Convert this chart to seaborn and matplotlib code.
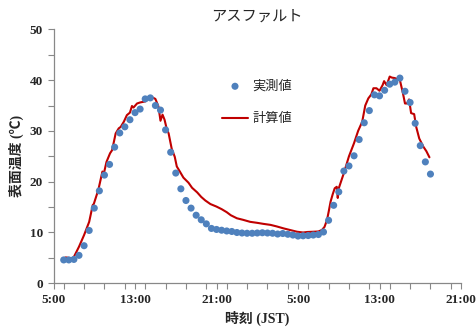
import numpy as np
import pandas as pd
import matplotlib
matplotlib.use("Agg")
import matplotlib.pyplot as plt
import matplotlib.ticker as mticker
import seaborn as sns

# measured surface temperature (every 30 min, hours counted from day-1 0:00)
obs_hours = [6.0, 6.5, 7.0, 7.5, 8.0, 8.5, 9.0, 9.5, 10.0, 10.5, 11.0, 11.5, 12.0, 12.5,
             13.0, 13.5, 14.0, 14.5, 15.0, 15.5, 16.0, 16.5, 17.0, 17.5, 18.0, 18.5,
             19.0, 19.5, 20.0, 20.5, 21.0, 21.5, 22.0, 22.5, 23.0, 23.5, 24.0, 24.5,
             25.0, 25.5, 26.0, 26.5, 27.0, 27.5, 28.0, 28.5, 29.0, 29.5, 30.0, 30.5,
             31.0, 31.5, 32.0, 32.5, 33.0, 33.5, 34.0, 34.5, 35.0, 35.5, 36.0, 36.5,
             37.0, 37.5, 38.0, 38.5, 39.0, 39.5, 40.0, 40.5, 41.0, 41.5, 42.0]
obs_temp = [4.6, 4.6, 4.7, 5.5, 7.4, 10.4, 14.8, 18.2, 21.3, 23.4, 26.8, 29.6, 30.8, 32.2,
            33.6, 34.3, 36.3, 36.5, 35.0, 34.1, 30.2, 25.8, 21.7, 18.6, 16.3, 14.8,
            13.4, 12.5, 11.7, 10.8, 10.6, 10.45, 10.3, 10.2, 10.0, 9.9, 9.85, 9.85,
            9.9, 9.95, 9.9, 9.85, 9.7, 9.8, 9.65, 9.5, 9.3, 9.35, 9.4, 9.5,
            9.6, 10.1, 12.4, 15.35, 18.0, 22.1, 23.1, 25.1, 28.3, 31.6, 34.0, 37.1,
            36.9, 38.0, 39.2, 39.6, 40.4, 37.8, 35.6, 31.5, 27.1, 23.9, 21.5]

# calculated surface temperature
calc_hours = [6.0, 6.2, 6.8, 7.0, 7.5, 8.0, 8.5, 8.85, 8.95, 9.4, 9.8, 9.95, 10.2, 10.55,
              10.75, 11.1, 11.4, 11.6, 11.9, 12.2, 12.5, 12.7, 12.85, 13.2, 13.5, 14.0,
              14.3, 14.5, 14.7, 15.0, 15.3, 15.5, 15.7, 15.9, 16.1, 16.3, 16.6, 16.9,
              17.1, 17.4, 17.75, 18.25, 18.6, 19.1, 19.5, 19.9, 20.4, 21.0, 21.5, 22.0,
              22.4, 23.0, 23.6, 24.3, 25.0, 25.6, 26.3, 26.9, 27.6, 28.2, 28.9, 29.5,
              29.9, 30.5, 31.0, 31.35, 31.6, 31.85, 32.0, 32.2, 32.4, 32.6, 32.8, 32.9,
              33.0, 33.5, 34.0, 34.5, 34.9, 35.3, 35.6, 35.9, 36.2, 36.4, 36.7, 37.0,
              37.3, 37.45, 37.7, 38.0, 38.2, 38.5, 39.0, 39.3, 39.5, 39.7, 39.9, 40.1,
              40.4, 40.6, 40.9, 41.3, 41.6, 41.9]
calc_temp = [4.9, 5.1, 4.9, 5.2, 7.2, 9.5, 12.1, 15.4, 15.6, 18.4, 22.0, 21.7, 23.9, 25.6,
             26.2, 29.5, 30.5, 30.8, 31.8, 33.1, 33.6, 34.9, 34.6, 35.4, 35.6, 35.8,
             36.3, 36.8, 36.6, 36.3, 34.8, 32.0, 33.2, 32.2, 30.5, 29.5, 26.5, 24.9,
             23.0, 22.0, 20.8, 19.8, 18.8, 17.9, 17.0, 16.3, 15.6, 15.1, 14.6, 14.0,
             13.4, 12.8, 12.5, 12.1, 11.9, 11.7, 11.5, 11.2, 10.8, 10.5, 10.15, 10.0,
             10.1, 10.15, 10.2, 10.5, 11.1, 12.5, 14.0, 16.1, 17.5, 18.7, 19.0, 16.8,
             18.7, 21.7, 25.0, 27.6, 30.0, 31.8, 35.0, 36.4, 37.2, 38.4, 38.4, 37.9,
             39.0, 39.8, 39.0, 40.7, 40.5, 40.4, 40.0, 37.4, 35.4, 35.4, 36.2, 33.5,
             33.3, 30.8, 28.5, 26.9, 26.0, 24.8]

tick_hours = [5, 13, 21, 29, 37, 45]
tick_labels = ["5:00", "13:00", "21:00", "5:00", "13:00", "21:00"]

sns.set_theme(style="white")
plt.rcParams['font.family'] = ['Liberation Serif', 'Noto Sans CJK JP', 'DejaVu Sans']

obs_df = pd.DataFrame({"hour": obs_hours, "temp": obs_temp})
calc_df = pd.DataFrame({"hour": calc_hours, "temp": calc_temp})

fig = plt.figure(figsize=(4.77, 3.32), dpi=100)
ax = fig.add_axes([0.1122, 0.1467, 0.8543, 0.765])

sns.lineplot(data=calc_df, x="hour", y="temp", ax=ax, color="#C00000",
             linewidth=1.5, label="計算値", sort=False)
sns.scatterplot(data=obs_df, x="hour", y="temp", ax=ax, color="#4F81BD",
                s=26, edgecolor="none", label="実測値", zorder=3)

ax.set_xlim(5, 45)
ax.set_ylim(0, 50)
ax.xaxis.set_major_locator(mticker.FixedLocator(tick_hours))
ax.xaxis.set_major_formatter(mticker.FixedFormatter(tick_labels))
ax.xaxis.set_minor_locator(mticker.MultipleLocator(2))
ax.yaxis.set_major_locator(mticker.MultipleLocator(10))
ax.yaxis.set_minor_locator(mticker.MultipleLocator(5))
ax.tick_params(which="both", direction="out", length=4, width=0.8, color="#888888",
               bottom=True, left=True)
ax.tick_params(labelsize=9.5)
for lab in ax.get_xticklabels() + ax.get_yticklabels():
    lab.set_fontweight("bold")

for side in ["top", "right"]:
    ax.spines[side].set_visible(False)
for side in ["left", "bottom"]:
    ax.spines[side].set_color("#888888")
    ax.spines[side].set_linewidth(0.9)

ax.set_title("アスファルト", fontsize=11, pad=6)
ax.set_xlabel("時刻 (JST)", fontsize=10, fontweight="bold", labelpad=4)
ax.set_ylabel("表面温度 (℃)", fontsize=10, fontweight="bold", labelpad=4)

handles, labels = ax.get_legend_handles_labels()
order = [labels.index("実測値"), labels.index("計算値")]
ax.legend([handles[i] for i in order], [labels[i] for i in order],
          loc="upper left", bbox_to_anchor=(0.465, 0.758), bbox_transform=fig.transFigure,
          frameon=False, fontsize=9.5, handlelength=2.0, handletextpad=0.3,
          labelspacing=1.55, borderpad=0, borderaxespad=0)

fig.savefig("out.png", dpi=100)
